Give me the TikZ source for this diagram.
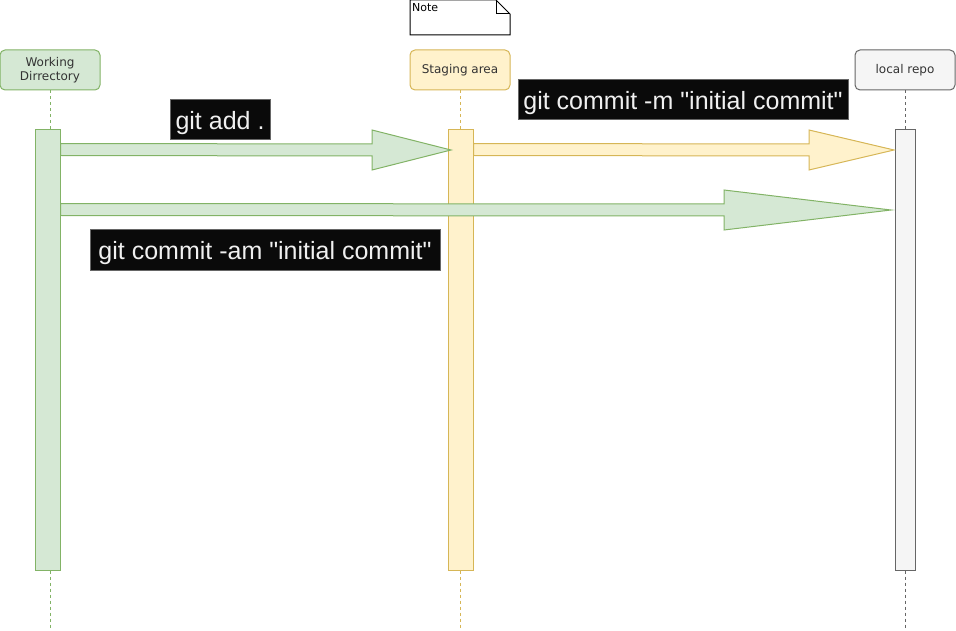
\documentclass[tikz,border=0pt]{standalone}
\usepackage{fontspec}
\setmainfont{Liberation Sans}[Ligatures=TeXOff]
\newfontfamily\lanefont{DejaVu Sans}
\usetikzlibrary{calc}

\definecolor{wdfill}{HTML}{D5E8D4}
\definecolor{wddraw}{HTML}{82B366}
\definecolor{safill}{HTML}{FFF2CC}
\definecolor{sadraw}{HTML}{D6B656}
\definecolor{lrfill}{HTML}{F5F5F5}
\definecolor{lrdraw}{HTML}{666666}
\definecolor{lanetext}{HTML}{333333}
\definecolor{cmdfill}{HTML}{0A0A0A}
\definecolor{cmdtext}{HTML}{F0F0F0}

% fat arrow: style, start, tip, head length
\newcommand{\fatarrow}[4]{%
  \draw[#1] ($(#2)+(0,-6)$) -- ($(#3)+(-#4,-6)$) -- ($(#3)+(-#4,-20)$) -- (#3)
    -- ($(#3)+(-#4,20)$) -- ($(#3)+(-#4,6)$) -- ($(#2)+(0,6)$) -- cycle;}

\begin{document}
\begin{tikzpicture}[x=1pt,y=-1pt,
    lane/.style ={rounded corners=5pt, draw, line width=1pt, minimum width=100pt,
      minimum height=40pt, inner sep=0pt, align=center, text=lanetext,
      font=\lanefont\fontsize{12}{14}\selectfont},
    activation/.style ={draw, line width=1pt, inner sep=0pt, minimum height=440pt},
    lifeline/.style ={line width=1pt, dash pattern=on 3pt off 3pt},
    cmd/.style ={fill=cmdfill, draw=lrdraw, line width=1pt, text=cmdtext, inner sep=0pt,
      minimum height=40pt, text depth=0pt, font=\fontsize{25}{30}\selectfont},
    fat/.style ={line width=1pt, line join=miter}]
   \useasboundingbox (0,0) rectangle (956,631);

   % note
   \draw[line width=1pt] (410,0) -- (496,0) -- (510,14) -- (510,35) -- (410,35) -- cycle;
   \draw[line width=1pt] (496,0) -- (496,14) -- (510,14);
   \node[anchor=north west, inner sep=0pt, font=\lanefont\fontsize{11}{13}\selectfont] (notetext) at (412,3) {Note};

   % lanes
   \node[lane, fill=wdfill, draw=wddraw] (wd) at (50,70) {Working\\Dirrectory};
   \node[lane, fill=safill, draw=sadraw] (sa) at (460,70) {Staging area};
   \node[lane, fill=lrfill, draw=lrdraw] (lr) at (905,70) {local repo};

   \coordinate (wdend) at (50,630);
   \coordinate (saend) at (460,630);
   \coordinate (lrend) at (905,630);
   \draw[lifeline, draw=wddraw] (wd) -- (wdend);
   \draw[lifeline, draw=sadraw] (sa) -- (saend);
   \draw[lifeline, draw=lrdraw] (lr) -- (lrend);

   \node[activation, fill=wdfill, draw=wddraw, minimum width=25pt] (wdbar) at (47.5,350) {};
   \node[activation, fill=safill, draw=sadraw, minimum width=25pt] (sabar) at (460.5,350) {};
   \node[activation, fill=lrfill, draw=lrdraw, minimum width=20pt] (lrbar) at (905,350) {};

   % arrows
   \coordinate (addstart) at ($(wdbar.north east)+(0,20)$);
   \coordinate (addtip) at (451,150);
   \coordinate (commitstart) at ($(sabar.north east)+(0,20)$);
   \coordinate (committip) at (894,150);
   \coordinate (amstart) at ($(wdbar.north east)+(0,80)$);
   \coordinate (amtip) at (891,210);
   \fatarrow{fat, fill=wdfill, draw=wddraw}{addstart}{addtip}{79}
   \fatarrow{fat, fill=safill, draw=sadraw}{commitstart}{committip}{85}
   \fatarrow{fat, fill=wdfill, draw=wddraw}{amstart}{amtip}{167}

   % commands
   \node[cmd, minimum width=100pt] (add) at (220,120) {git add .};
   \node[cmd, minimum width=330pt] (commit) at (683,100) {git commit -m "initial commit"};
   \node[cmd, minimum width=350pt] (commitam) at (265,250) {git commit -am "initial commit"};
\end{tikzpicture}
\end{document}
